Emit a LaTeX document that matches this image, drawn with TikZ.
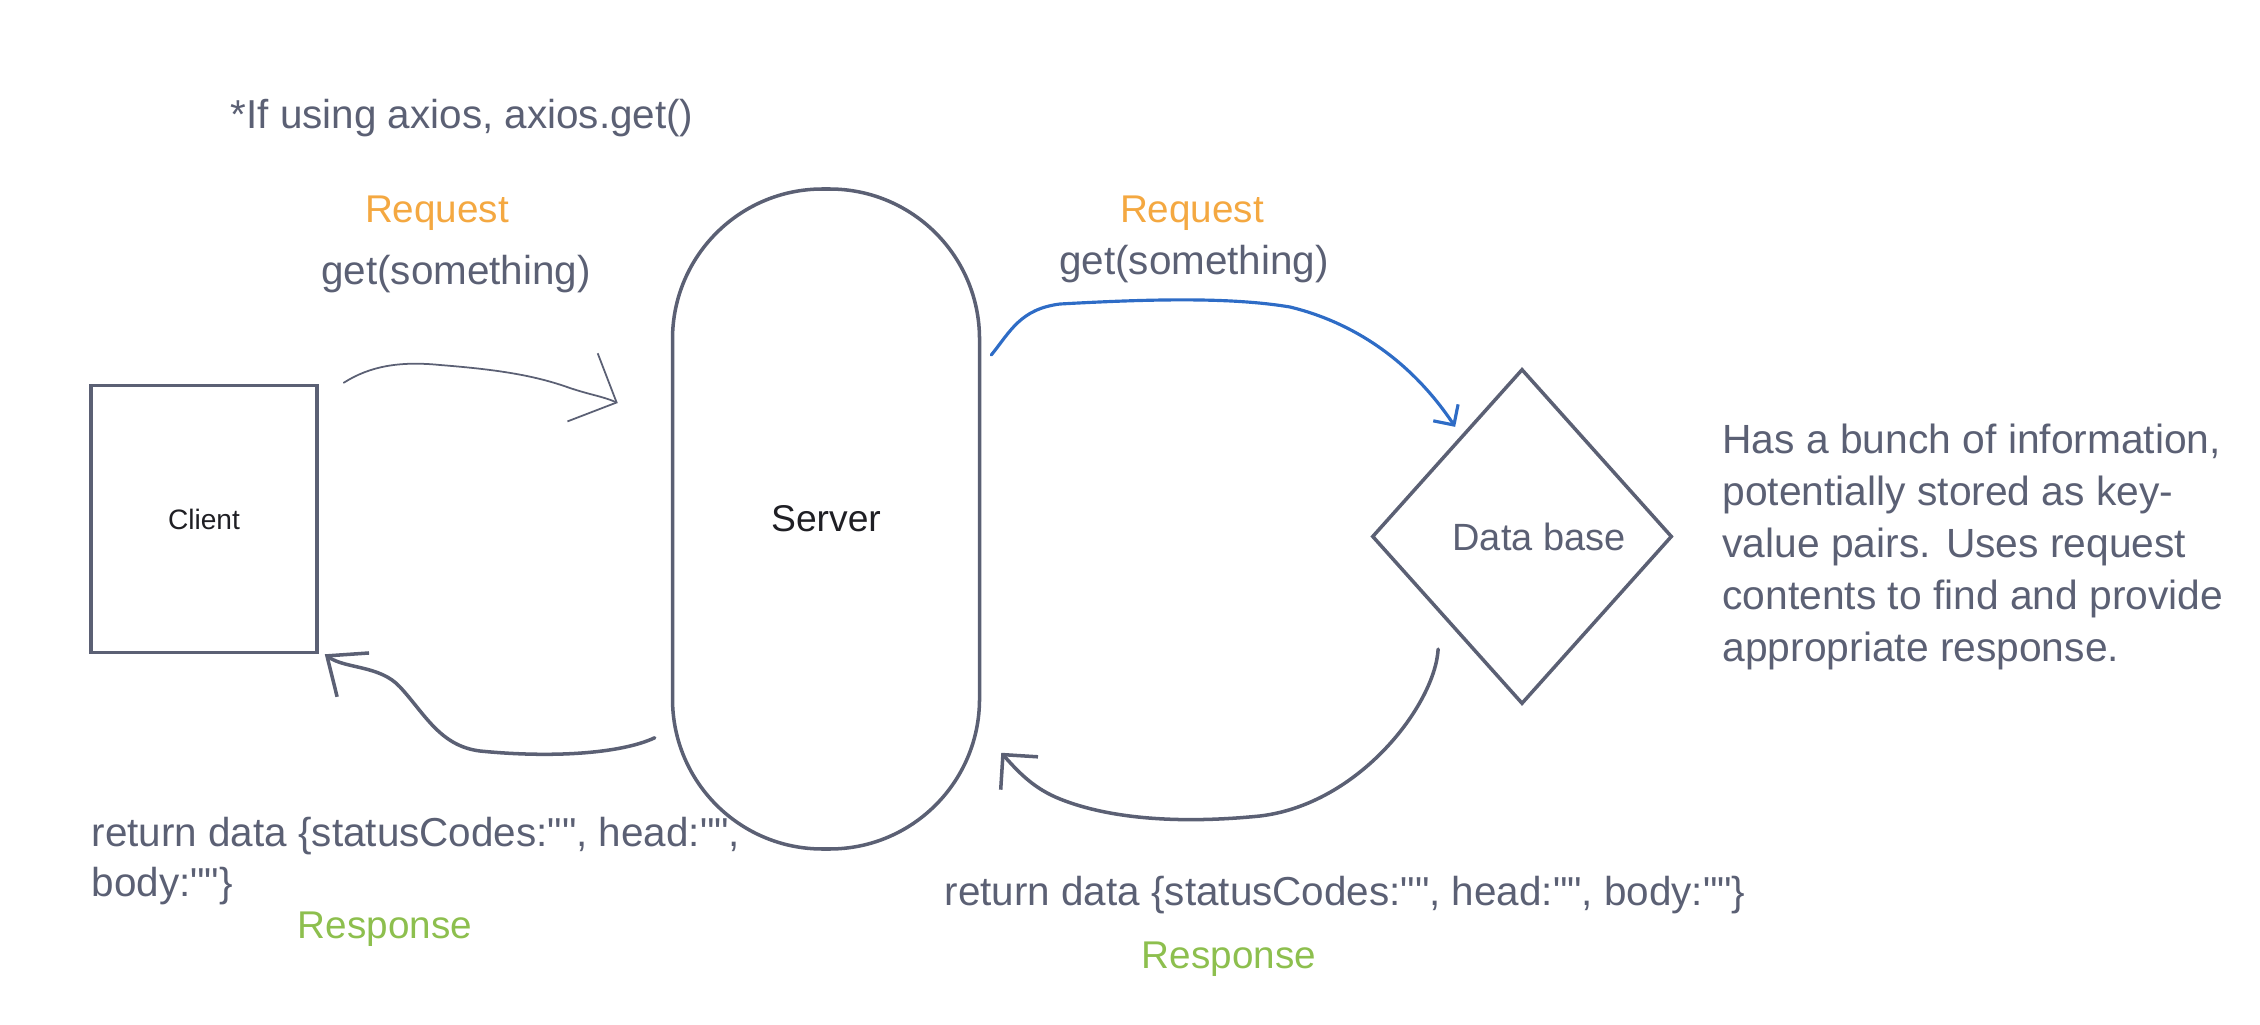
\documentclass[tikz,border=0pt]{standalone}
\usepackage{fontspec}
\setmainfont{Liberation Sans}[Ligatures=TeXOff]
\usetikzlibrary{shapes.geometric, arrows.meta, positioning}
\definecolor{ink}{HTML}{5B6074}
\definecolor{reqorange}{HTML}{F4A841}
\definecolor{respgreen}{HTML}{8DBF4E}
\definecolor{callblue}{HTML}{2E6CC6}
\definecolor{nearblack}{HTML}{1F1F24}

\begin{document}
\begin{tikzpicture}[
  box/.style={draw=ink, line width=1pt, inner sep=0pt},
  clientbox/.style={box, rectangle, minimum width=2.26cm, minimum height=2.67cm,
    font=\fontsize{8}{10}\selectfont, text=nearblack},
  serverbox/.style={box, rectangle, rounded corners=1.5cm,
    minimum width=3.07cm, minimum height=6.6cm,
    font=\fontsize{10.6}{13}\selectfont, text=nearblack},
  dbbox/.style={box, diamond, minimum width=3.0cm, minimum height=3.35cm,
    font=\fontsize{10.8}{13}\selectfont, text=ink},
  lbl/.style={inner sep=0pt, font=\fontsize{11.5}{14}\selectfont, text=ink},
  reqlbl/.style={lbl, font=\fontsize{11}{14}\selectfont, text=reqorange},
  resplbl/.style={lbl, font=\fontsize{11}{14}\selectfont, text=respgreen},
  sketch/.style={line cap=round, line join=round},
  thinarrow/.style={sketch, ink, line width=0.5pt, -{Straight Barb[angle=90:15pt]}},
  callarrow/.style={sketch, callblue, line width=0.9pt, -{Straight Barb[angle=90:6pt]}},
  backarrow/.style={sketch, ink, line width=1pt}
]
\useasboundingbox (0,0) rectangle (22.6,10.24);

\node[clientbox] (client) at (2.04,5.05) {Client};
\node[serverbox, right=3.52cm of client] (server) {Server};
\node[dbbox, right=3.89cm of server, yshift=-1.75mm] (db) {\hspace*{3.4mm}Data base};
\node[lbl, right=4.8mm of db, yshift=-1mm, align=left,
      font=\fontsize{11.6}{14.8}\selectfont] (info)
  {Has a bunch of information,\\potentially stored as key-\\value pairs. Uses request\\contents to find and provide\\appropriate response.};

\node[lbl, anchor=base west] (note) at (2.30,8.95) {*If using axios, axios.get()};
\node[reqlbl, anchor=base] (reqin)  at (4.37,8.01) {Request};
\node[lbl, anchor=base]    (getin)  at (4.56,7.39) {get(something)};
\node[reqlbl, anchor=base] (reqout) at (11.92,8.01) {Request};
\node[lbl, anchor=base]    (getout) at (11.94,7.49) {get(something)};

\node[lbl, anchor=north west, align=left] (retin) at (0.91,2.07)
  {return data \{statusCodes:"", head:"",\\body:""\}};
\node[resplbl, anchor=base] (respin) at (3.85,0.86) {Response};
\node[lbl, anchor=base west] (retout) at (9.44,1.19)
  {return data \{statusCodes:"", head:"", body:""\}};
\node[resplbl, anchor=base] (respout) at (12.29,0.56) {Response};

% requests
\draw[thinarrow] ([shift={(0.25,0.01)}]client.north east)
  .. controls (3.70,6.58) and (4.00,6.63) .. (4.40,6.59)
  .. controls (4.90,6.55) and (5.30,6.50) .. (5.67,6.37)
  .. controls (5.90,6.29) and (6.02,6.28) .. ([shift={(-0.53,1.16)}]server.west);
\draw[callarrow] ([shift={(0.10,1.64)}]server.east)
  .. controls (10.10,6.92) and (10.20,7.15) .. (10.60,7.20)
  .. controls (11.50,7.25) and (12.30,7.27) .. (12.90,7.17)
  .. controls (13.80,6.95) and (14.30,6.35) .. ([shift={(0.09,0.25)}]db.north west);

% responses
\draw[backarrow, -{Straight Barb[angle=80:12pt]}] ([shift={(-0.16,1.13)}]server.south west)
  .. controls (6.20,2.70) and (5.50,2.66) .. (4.80,2.73)
  .. controls (4.40,2.78) and (4.25,3.10) .. (4.00,3.37)
  .. controls (3.80,3.59) and (3.45,3.55) .. ([xshift=0.6mm]client.south east);
\draw[backarrow, -{Straight Barb[angle=90:10pt]}] ([shift={(-0.08,-0.28)}]db.south west)
  .. controls (14.35,3.20) and (13.60,2.20) .. (12.60,2.08)
  .. controls (11.80,2.00) and (11.10,2.05) .. (10.60,2.25)
  .. controls (10.35,2.35) and (10.20,2.50) .. ([shift={(0.20,0.98)}]server.south east);
\end{tikzpicture}
\end{document}
